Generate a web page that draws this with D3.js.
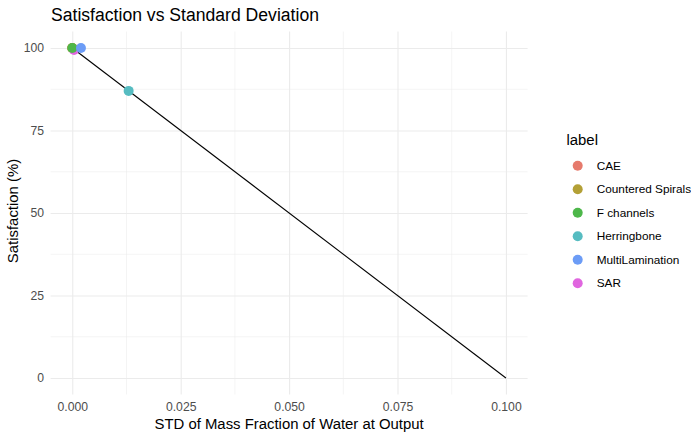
<!DOCTYPE html>
<html>
<head>
<meta charset="utf-8">
<script src="https://cdn.jsdelivr.net/npm/d3@7"></script>
<style>
  html, body { margin: 0; padding: 0; background: #fff; }
  svg { display: block; font-family: "Liberation Sans", Arial, Helvetica, sans-serif; }
</style>
</head>
<body>
<svg id="chart" width="691" height="435"></svg>
<script>
// Design labels, in legend order
const labels = ["CAE", "Countered Spirals", "F channels", "Herringbone", "MultiLamination", "SAR"];
const colors = ["#E67A6C", "#B3A036", "#4DB74A", "#56BCC1", "#6C9CF6", "#E066DF"];
// Standard deviation of water mass fraction at output, and resulting satisfaction
const stdValues = [0.0, 0.0, 0.0, 0.013, 0.002, 0.0004];
const satisfaction = [100, 100, 100, 87, 100, 99.4];
// Order in which points are drawn (later on top)
const drawOrder = ["CAE", "Countered Spirals", "SAR", "F channels", "Herringbone", "MultiLamination"];
// Reference line: satisfaction falls linearly from 100 at std 0 to 0 at std 0.1
const lineStd = [0, 0.1];
const lineSat = [100, 0];
const xTicks = [0, 0.025, 0.05, 0.075, 0.1];
const yTicks = [0, 25, 50, 75, 100];

const svg = d3.select("#chart");
const panel = { left: 50.6, right: 527.6, top: 31.5, bottom: 394.5 };

const x = d3.scaleLinear().domain([-0.005, 0.105]).range([panel.left, panel.right]);
const y = d3.scaleLinear().domain([-5, 105]).range([panel.bottom, panel.top]);
const color = d3.scaleOrdinal().domain(labels).range(colors);

const points = labels.map((l, i) => ({ label: l, std: stdValues[i], sat: satisfaction[i] }));
points.sort((a, b) => drawOrder.indexOf(a.label) - drawOrder.indexOf(b.label));

// Minor gridlines (midpoints between major ticks)
const xMinor = xTicks.slice(0, -1).map((t, i) => (t + xTicks[i + 1]) / 2);
const yMinor = yTicks.slice(0, -1).map((t, i) => (t + yTicks[i + 1]) / 2);
const grid = svg.append("g");
grid.selectAll(".xminor").data(xMinor).join("line")
  .attr("x1", d => x(d)).attr("x2", d => x(d))
  .attr("y1", panel.top).attr("y2", panel.bottom)
  .attr("stroke", "#EBEBEB").attr("stroke-width", 0.55);
grid.selectAll(".yminor").data(yMinor).join("line")
  .attr("x1", panel.left).attr("x2", panel.right)
  .attr("y1", d => y(d)).attr("y2", d => y(d))
  .attr("stroke", "#EBEBEB").attr("stroke-width", 0.55);

// Axes: major gridlines come from the tick lines
const xAxis = svg.append("g")
  .attr("transform", `translate(0,${panel.bottom})`)
  .call(d3.axisBottom(x).tickValues(xTicks).tickFormat(d3.format(".3f"))
    .tickSize(-(panel.bottom - panel.top)).tickPadding(7.5));
const yAxis = svg.append("g")
  .attr("transform", `translate(${panel.left},0)`)
  .call(d3.axisLeft(y).tickValues(yTicks).tickFormat(d3.format("d"))
    .tickSize(-(panel.right - panel.left)).tickPadding(6.6));
[xAxis, yAxis].forEach(a => {
  a.select(".domain").remove();
  a.selectAll(".tick line").attr("stroke", "#EBEBEB").attr("stroke-width", 1.1);
  a.selectAll(".tick text").attr("fill", "#4D4D4D").attr("font-size", 12.2);
});
xAxis.selectAll(".tick text").attr("dy", "0.71em");

// Reference line
const lineData = lineStd.map((s, i) => ({ std: s, sat: lineSat[i] }));
svg.append("path")
  .datum(lineData)
  .attr("d", d3.line().x(d => x(d.std)).y(d => y(d.sat)))
  .attr("fill", "none").attr("stroke", "#000").attr("stroke-width", 1.1);

// Points
svg.append("g").selectAll("circle").data(points).join("circle")
  .attr("cx", d => x(d.std)).attr("cy", d => y(d.sat)).attr("r", 5)
  .attr("fill", d => color(d.label));

// Title and axis titles
svg.append("text").attr("x", 51).attr("y", 20.7)
  .attr("font-size", 17.6).attr("fill", "#000").text("Satisfaction vs Standard Deviation");
svg.append("text").attr("x", (panel.left + panel.right) / 2).attr("y", 429)
  .attr("text-anchor", "middle").attr("font-size", 14.9).attr("fill", "#000")
  .text("STD of Mass Fraction of Water at Output");
svg.append("text")
  .attr("transform", `translate(18,${(panel.top + panel.bottom) / 2 - 2}) rotate(-90)`)
  .attr("text-anchor", "middle").attr("font-size", 14.9).attr("fill", "#000")
  .text("Satisfaction (%)");

// Legend
const legend = svg.append("g").attr("transform", "translate(566,0)");
legend.append("text").attr("x", 0.5).attr("y", 145)
  .attr("font-size", 14.9).attr("fill", "#000").text("label");
const items = legend.selectAll(".item").data(labels).join("g")
  .attr("transform", (d, i) => `translate(0,${165.7 + i * 23.5})`);
items.append("circle").attr("cx", 11.7).attr("cy", 0).attr("r", 5)
  .attr("fill", d => color(d));
items.append("text").attr("x", 30.7).attr("y", 0).attr("dy", "0.35em")
  .attr("font-size", 11.8).attr("fill", "#000").text(d => d);
</script>
</body>
</html>
